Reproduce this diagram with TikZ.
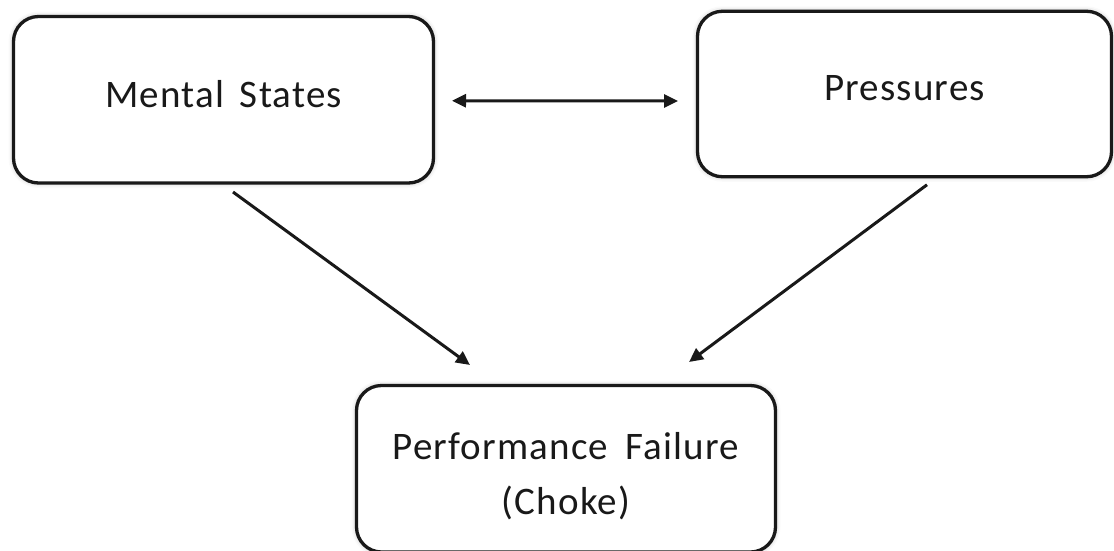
\documentclass[tikz,border=0pt]{standalone}
\usepackage{fontspec}
\setmainfont{Carlito}[LetterSpace=3,WordSpace=1.6]
\usetikzlibrary{arrows.meta,shadows.blur}

\begin{document}
\begin{tikzpicture}[x=1pt,y=-1pt,>={Triangle[length=14pt,width=13pt]},line width=3pt,color=black!90,box node/.style={draw,fill=white,line width=3.3pt,rounded corners=25pt,inner sep=0pt,outer sep=0pt,align=center,font=\fontsize{39}{55}\selectfont,blur shadow={shadow xshift=0pt,shadow yshift=0pt,shadow blur radius=5pt,shadow opacity=30}}]
                \useasboundingbox (0,0) rectangle (1114,550);
                \node[box node,minimum width=420pt,minimum height=166.5pt,text height=25pt,text depth=10pt] (mental) at (223.5,99.75) {Mental States};
                \node[box node,minimum width=414pt,minimum height=165.5pt,text height=25pt,text depth=13pt] (pressures) at (904.5,94) {Pressures};
                \node[box node,minimum width=419pt,minimum height=166.5pt] (perf) at (566,468.75) {\raisebox{-7pt}[\height][\depth]{\begin{tabular}{@{}c@{}}Performance\hspace{0.45em}Failure\\(Choke)\end{tabular}}};

                \draw[<->] ([xshift=18.5pt,yshift=-1pt]mental.east) -- ([xshift=-19.5pt,yshift=-7pt]pressures.west);
                \draw[->] ([xshift=9.5pt,yshift=-9pt]mental.south) -- ([xshift=113.5pt,yshift=20.5pt]perf.north west);
                \draw[->] ([xshift=22.5pt,yshift=-8pt]pressures.south) -- ([xshift=-86.5pt,yshift=23.5pt]perf.north east);
            \end{tikzpicture}
\end{document}
